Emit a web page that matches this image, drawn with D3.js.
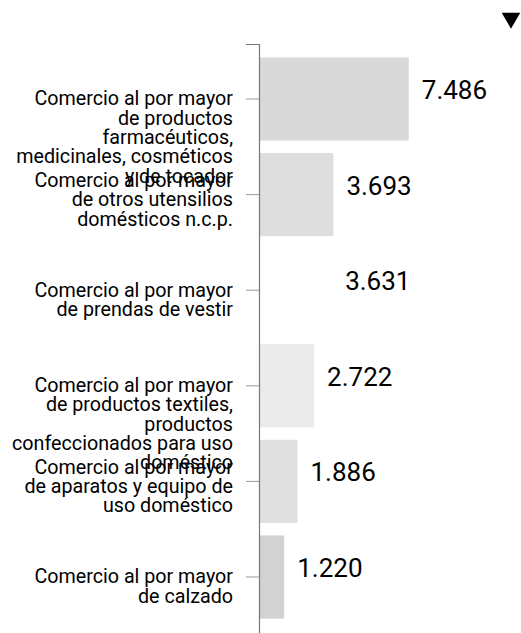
<!DOCTYPE html>
<html>
<head>
<meta charset="utf-8">
<script src="https://cdn.jsdelivr.net/npm/d3@7"></script>
<style>
  html, body { margin: 0; padding: 0; background: #fff; }
  svg { display: block; }
</style>
</head>
<body>
<svg id="chart" width="521" height="633"></svg>
<script>
const categories = [
  "Comercio al por mayor\nde productos\nfarmacéuticos,\nmedicinales, cosméticos\ny de tocador",
  "Comercio al por mayor\nde otros utensilios\ndomésticos n.c.p.",
  "Comercio al por mayor\nde prendas de vestir",
  "Comercio al por mayor\nde productos textiles,\nproductos\nconfeccionados para uso\ndoméstico",
  "Comercio al por mayor\nde aparatos y equipo de\nuso doméstico",
  "Comercio al por mayor\nde calzado"
];
const values = [7486, 3693, 3631, 2722, 1886, 1220];
const barColors = ["#d9d9d9", "#dedede", "#ffffff", "#ebebeb", "#e0e0e0", "#d2d2d2"];

const svg = d3.select("#chart");
const fontFamily = "Roboto, 'Noto Sans', sans-serif";

const x = d3.scaleLinear().domain([0, 8000]).range([260, 419]);
const y = d3.scaleBand().domain(categories).range([44, 645])
  .paddingInner(0.13).paddingOuter(0.2085).align(0.337);

const fmt = d3.formatLocale({decimal: ",", thousands: ".", grouping: [3], currency: ["$", ""]}).format(",");

// bars
svg.append("g").selectAll("rect")
  .data(categories)
  .join("rect")
  .attr("x", x(0))
  .attr("y", d => y(d))
  .attr("width", (d, i) => x(values[i]) - x(0))
  .attr("height", y.bandwidth())
  .attr("fill", (d, i) => barColors[i]);

// axis
const axisG = svg.append("g")
  .attr("transform", "translate(259,0)")
  .call(d3.axisLeft(y).tickSize(13).tickSizeOuter(13).tickPadding(13));
axisG.select(".domain").attr("stroke", "#777").attr("stroke-width", 1.2);
axisG.selectAll(".tick line").attr("stroke", "#999");
axisG.selectAll(".tick text")
  .attr("font-family", fontFamily)
  .attr("font-size", 19.7)
  .attr("fill", "#000")
  .each(function (d) {
    const t = d3.select(this);
    const xPos = t.attr("x");
    const lines = d.split("\n");
    const shift = lines.length === 3 ? -14 : 0;
    t.text(null);
    lines.forEach((ln, j) => {
      t.append("tspan").attr("x", xPos)
        .attr("dy", j === 0 ? (shift + 0.32 * 19.7) + "px" : "19.3px")
        .text(ln);
    });
  });

// value labels
svg.append("g").selectAll("text")
  .data(categories)
  .join("text")
  .attr("x", (d, i) => x(values[i]) + 13)
  .attr("y", d => y(d) + y.bandwidth() / 2)
  .attr("font-family", fontFamily)
  .attr("font-size", 26)
  .attr("fill", "#000")
  .text((d, i) => fmt(values[i]));

// top-right triangle marker
svg.append("path")
  .attr("d", d3.symbol().type(d3.symbolTriangle).size(150)())
  .attr("transform", "translate(511,18) rotate(180)")
  .attr("fill", "#000");
</script>
</body>
</html>
